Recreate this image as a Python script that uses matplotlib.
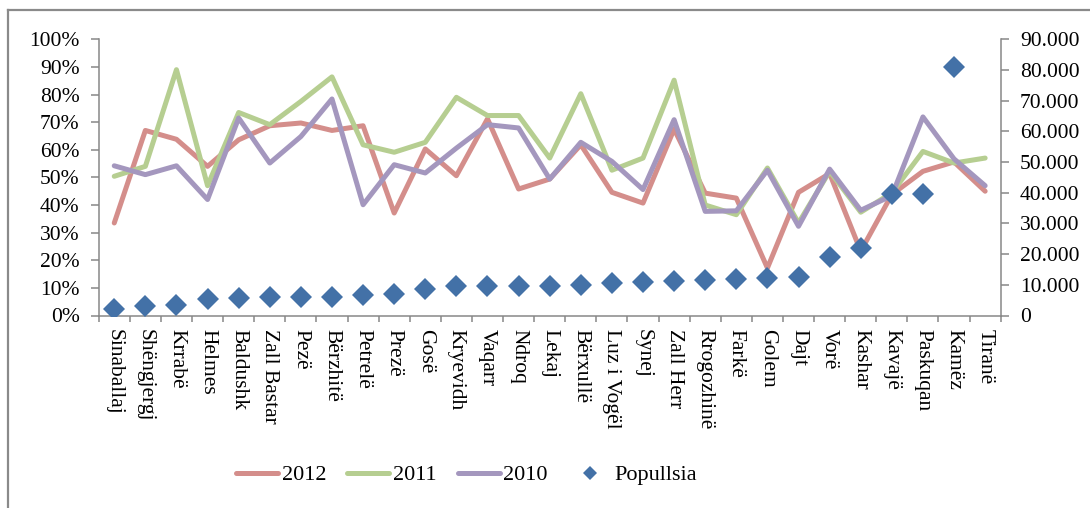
import numpy as np
import matplotlib
matplotlib.use("Agg")
import matplotlib.pyplot as plt
from matplotlib.lines import Line2D
from matplotlib.ticker import FuncFormatter, FixedLocator

# Communes (ordered by population)
communes = ["Sinaballaj", "Shëngjergj", "Krrabë", "Helmes", "Baldushk",
            "Zall Bastar", "Pezë", "Bërzhitë", "Petrelë", "Prezë", "Gosë",
            "Kryevidh", "Vaqarr", "Ndroq", "Lekaj", "Bërxullë", "Luz i Vogël",
            "Synej", "Zall Herr", "Rrogozhinë", "Farkë", "Golem", "Dajt",
            "Vorë", "Kashar", "Kavajë", "Paskuqan", "Kamëz", "Tiranë"]

# Shares per year (fractions of 1)
share_2012 = [0.335, 0.670, 0.638, 0.540, 0.636, 0.687, 0.697, 0.670, 0.687,
              0.371, 0.603, 0.506, 0.712, 0.458, 0.494, 0.618, 0.446, 0.407,
              0.675, 0.443, 0.425, 0.172, 0.446, 0.514, 0.233, 0.438, 0.522,
              0.556, 0.450]
share_2011 = [0.504, 0.540, 0.890, 0.470, 0.735, 0.691, 0.775, 0.864, 0.618,
              0.591, 0.627, 0.790, 0.724, 0.724, 0.570, 0.803, 0.526, 0.570,
              0.852, 0.400, 0.365, 0.534, 0.335, 0.522, 0.374, 0.444, 0.594,
              0.552, 0.570]
share_2010 = [0.542, 0.510, 0.542, 0.420, 0.715, 0.552, 0.648, 0.784, 0.401,
              0.546, 0.516, 0.606, 0.691, 0.679, 0.494, 0.627, 0.558, 0.456,
              0.709, 0.377, 0.379, 0.526, 0.323, 0.530, 0.381, 0.434, 0.719,
              0.567, 0.470]

# Population (right axis)
population = [2200, 3000, 3500, 5400, 5800, 5900, 6100, 6100, 6700, 6900,
              8500, 9500, 9500, 9500, 9700, 10100, 10600, 10800, 11200, 11700,
              11900, 12300, 12600, 19100, 22000, 39700, 39700, 80900, np.nan]

pct_ticks = [0.0, 0.1, 0.2, 0.3, 0.4, 0.5, 0.6, 0.7, 0.8, 0.9, 1.0]
pop_ticks = [0, 10000, 20000, 30000, 40000, 50000, 60000, 70000, 80000, 90000]

c2012 = "#D48E8B"
c2011 = "#B6CE91"
c2010 = "#A497BE"
cpop = "#4371A7"
axis_grey = "#878787"

plt.rcParams["font.family"] = ["Liberation Serif", "DejaVu Serif"]

W, H = 1090, 508
fig = plt.figure(figsize=(W / 100, H / 100), dpi=100)
ax = fig.add_axes([98.7 / W, 1 - 315.5 / H, (1000.7 - 98.7) / W, (315.5 - 39.3) / H])
ax2 = ax.twinx()

x = np.arange(len(communes))
line_kw = dict(lw=3.6, solid_capstyle="round", solid_joinstyle="round")
ax.plot(x, share_2012, color=c2012, label="2012", **line_kw)
ax.plot(x, share_2011, color=c2011, label="2011", **line_kw)
ax.plot(x, share_2010, color=c2010, label="2010", **line_kw)
ax2.plot(x, population, ls="none", marker="D", ms=11.5, color=cpop,
         markeredgewidth=0, label="Popullsia")

ax.set_xlim(-0.5, len(communes) - 0.5)
ax.set_ylim(0, 1)
ax2.set_ylim(0, 90000)

ax.yaxis.set_major_locator(FixedLocator(pct_ticks))
ax.yaxis.set_major_formatter(FuncFormatter(lambda v, p: f"{v * 100:.0f}%"))
ax2.yaxis.set_major_locator(FixedLocator(pop_ticks))
ax2.yaxis.set_major_formatter(
    FuncFormatter(lambda v, p: "0" if v == 0 else f"{int(v):,}".replace(",", ".")))

ax.set_xticks(x)
ax.set_xticklabels(communes, rotation=-90, ha="center", va="top")
ax.set_xticks(np.arange(-0.5, len(communes)), minor=True)
ax.tick_params(axis="x", which="major", length=0, pad=10, labelsize=15.5)
ax.tick_params(axis="x", which="minor", direction="out", length=4.6,
               width=1.1, color=axis_grey)
ax.tick_params(axis="y", direction="out", length=5.8, width=1.1,
               color=axis_grey, pad=8, labelsize=15.5)
ax2.tick_params(axis="y", direction="out", length=5.8, width=1.1,
                color=axis_grey, pad=8, labelsize=15.5)

for a in (ax, ax2):
    for s in a.spines.values():
        s.set_visible(False)
ax.spines["left"].set_visible(True)
ax.spines["bottom"].set_visible(True)
ax2.spines["right"].set_visible(True)
for s in (ax.spines["left"], ax.spines["bottom"], ax2.spines["right"]):
    s.set_color(axis_grey)
    s.set_linewidth(1.1)

# Chart frame
frame_kw = dict(color="#8A8A8A", lw=1.6, transform=None)
fig.add_artist(Line2D([8, 8], [0, H - 10], **frame_kw))
fig.add_artist(Line2D([8, W], [H - 10, H - 10], **frame_kw))

h1, l1 = ax.get_legend_handles_labels()
h2, l2 = ax2.get_legend_handles_labels()
fig.legend(h1 + h2, l1 + l2, loc="center", bbox_to_anchor=(466.5 / W, 33 / H),
           ncol=4, frameon=False, fontsize=16, handlelength=1.9,
           handletextpad=0.15, columnspacing=0.95, markerscale=0.6)

fig.savefig("out.png", dpi=100)
